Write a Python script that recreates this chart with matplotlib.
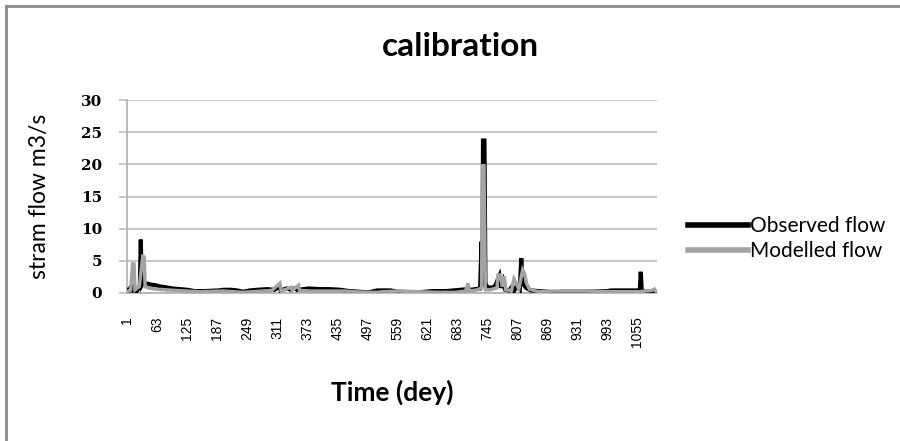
import matplotlib
matplotlib.use("Agg")
import matplotlib.pyplot as plt
from matplotlib.lines import Line2D

# ---- data (day, flow m3/s) ----
obs_days = [1, 5, 8, 12, 14, 17, 20, 24, 27, 29, 31, 34, 40, 50, 60, 70, 80, 95, 110, 125,
            140, 160, 190, 200, 215, 228, 240, 255, 270, 290, 305, 316, 318, 330, 340, 350,
            352, 365, 375, 400, 420, 441, 460, 480, 500, 517, 545, 560, 600, 633, 660, 690,
            703, 712, 720, 730, 733, 735, 736, 739, 741, 745, 755, 762, 766, 770, 774, 778,
            782, 790, 796, 800, 806, 812, 815, 818, 825, 835, 850, 870, 880, 900, 950, 993,
            1000, 1060, 1062, 1064, 1080, 1095]
obs_vals = [0.5, 0.4, 0.9, 1.0, 0.3, 0.6, 0.2, 0.8, 1.0, 8.3, 1.2, 1.6, 1.5, 1.3, 1.2, 1.0, 0.9, 0.7, 0.6, 0.5,
            0.3, 0.3, 0.4, 0.5, 0.5, 0.4, 0.2, 0.4, 0.5, 0.6, 0.5, 1.0, 0.4, 0.7, 0.5, 0.8,
            0.5, 0.6, 0.7, 0.6, 0.6, 0.5, 0.3, 0.2, 0.1, 0.4, 0.4, 0.2, 0.1, 0.3, 0.3, 0.5,
            0.6, 0.5, 0.6, 0.7, 8.0, 1.0, 23.7, 23.7, 1.5, 0.9, 0.8, 1.2, 2.0, 2.7, 0.8, 1.8,
            0.5, 0.4, 1.0, 0.3, 1.1, 0.5, 5.4, 1.5, 0.8, 0.4, 0.3, 0.2, 0.1, 0.2, 0.2, 0.3,
            0.4, 0.4, 3.3, 0.3, 0.2, 0.2]

mod_days = [1, 8, 12, 15, 17, 22, 26, 33, 36, 38, 45, 60, 80, 100, 125, 150, 200, 240, 260,
            300, 316, 319, 340, 342, 355, 357, 380, 420, 450, 470, 500, 517, 530, 560, 600,
            640, 680, 700, 705, 708, 725, 733, 735, 738, 741, 750, 765, 767, 772, 776, 780,
            783, 795, 800, 805, 810, 818, 822, 826, 832, 850, 880, 950, 1000, 1060, 1070,
            1085, 1090, 1095]
mod_vals = [0.2, 0.5, 4.5, 4.5, 0.5, 0.8, 1.0, 5.7, 5.6, 1.0, 0.8, 0.6, 0.5, 0.4, 0.3, 0.2, 0.3, 0.1, 0.2,
            0.4, 1.5, 0.3, 0.9, 0.4, 1.2, 0.4, 0.3, 0.3, 0.3, 0.2, 0.1, 0.1, 0.2, 0.3, 0.2,
            0.1, 0.1, 0.3, 1.5, 0.3, 0.5, 0.8, 19.8, 19.8, 0.5, 0.5, 0.8, 2.8, 2.8, 1.0, 2.6,
            0.5, 0.4, 2.2, 1.5, 0.6, 3.6, 3.0, 1.5, 0.6, 0.2, 0.3, 0.3, 0.2, 0.2, 0.3,
            0.4, 0.6, 0.1]

x_tick_labels = [1, 63, 125, 187, 249, 311, 373, 435, 497, 559, 621, 683, 745, 807, 869, 931, 993, 1055]
y_ticks = [0, 5, 10, 15, 20, 25, 30]
n_days = 1095

W, H = 900, 441
fig = plt.figure(figsize=(W / 100, H / 100), dpi=100)
fig.patch.set_facecolor("white")

# outer chart frame: only the left and top edges are inside the picture
fig.add_artist(Line2D([6 / W, 6 / W], [0, 1 - 6 / H], transform=fig.transFigure,
                      color="#8c8c8c", linewidth=2.0))
fig.add_artist(Line2D([6 / W, 1], [1 - 6 / H, 1 - 6 / H], transform=fig.transFigure,
                      color="#8c8c8c", linewidth=2.0))

ax = fig.add_axes([127 / W, 1 - 293 / H, (657 - 127) / W, (293 - 100) / H])

ax.plot(obs_days, obs_vals, color="black", linewidth=3.0, solid_joinstyle="miter",
        label="Observed flow", zorder=3)
ax.plot(mod_days, mod_vals, color="#a3a3a3", linewidth=2.5, solid_joinstyle="miter",
        label="Modelled flow", zorder=4)

ax.set_xlim(0.5, n_days + 0.5)
ax.set_ylim(0, 30)
ax.set_yticks(y_ticks)
ax.set_yticklabels([str(v) for v in y_ticks], fontfamily="DejaVu Serif",
                   fontweight="bold", fontsize=11)
ax.set_xticks(x_tick_labels)
ax.set_xticklabels([str(v) for v in x_tick_labels], rotation=90,
                   fontfamily="Liberation Sans", fontsize=10, va="top")

ax.grid(axis="y", color="#c8c8c8", linewidth=1.5)
ax.set_axisbelow(True)
for s in ["top", "right"]:
    ax.spines[s].set_visible(False)
ax.spines["left"].set_color("#b0b0b0")
ax.spines["bottom"].set_color("#b0b0b0")
ax.spines["left"].set_linewidth(1.2)
ax.spines["bottom"].set_linewidth(1.2)
ax.tick_params(axis="y", length=6, color="#c0c0c0", width=1.2, pad=12)
ax.tick_params(axis="x", length=0, pad=17)

fig.text(460 / W, 1 - 46 / H, "calibration", ha="center", va="center",
         fontfamily="Lato", fontweight="bold", fontsize=24)
fig.text(40 / W, 1 - 196 / H, "stram flow m3/s", ha="center", va="center",
         rotation=90, fontfamily="Lato", fontsize=16.5)
fig.text(392 / W, 1 - 392 / H, "Time (dey)", ha="center", va="center",
         fontfamily="Lato", fontweight="bold", fontsize=19)

leg = fig.legend(loc="upper left", bbox_to_anchor=(688 / W, 1 - 216 / H),
                 frameon=False, prop={"family": "Lato", "size": 15},
                 handlelength=2.9, handletextpad=0.1, labelspacing=0.25,
                 borderaxespad=0, borderpad=0)
for line in leg.get_lines():
    line.set_linewidth(4.0)

fig.savefig("out.png", dpi=100, facecolor="white")
